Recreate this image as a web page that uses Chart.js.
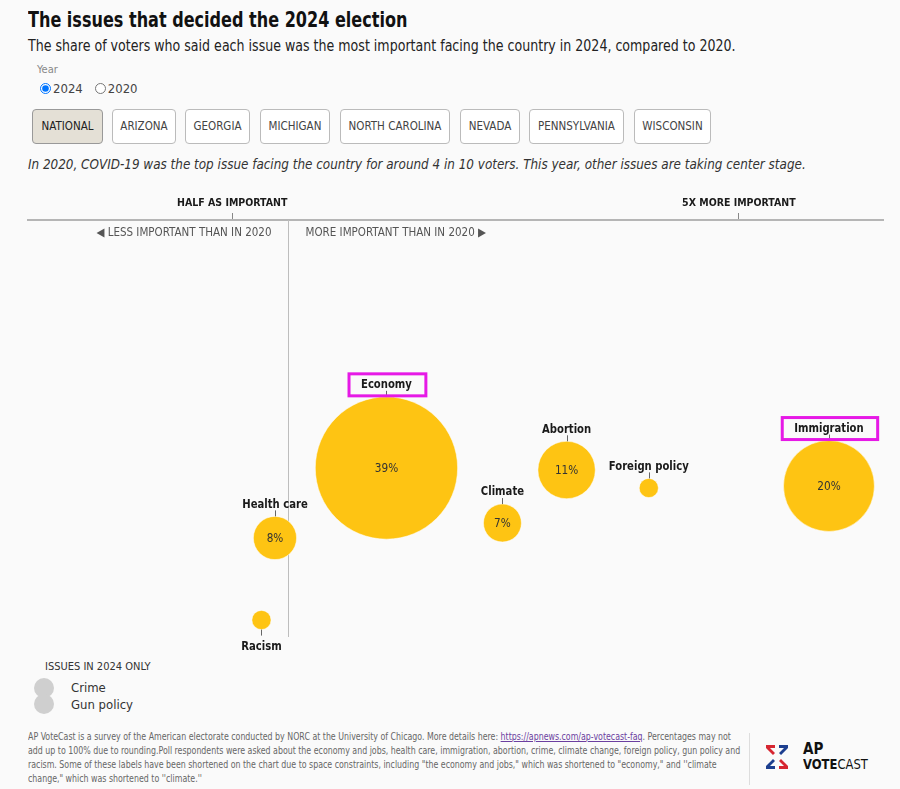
<!DOCTYPE html>
<html>
<head>
<meta charset="utf-8">
<script src="https://cdn.jsdelivr.net/npm/chart.js@4.4.1/dist/chart.umd.min.js"></script>
<style>
  html, body { margin: 0; padding: 0; background: #fafafa; }
  body { width: 900px; height: 789px; position: relative; overflow: hidden;
         font-family: 'Liberation Sans Narrow', 'DejaVu Sans Condensed', 'Roboto', sans-serif; font-stretch: condensed; color: #222; }
  .abs { position: absolute; white-space: nowrap; transform-origin: 0 0; }
  #title { left: 28px; top: 8px; font-size: 21px; font-weight: bold; color: #111; transform: scaleX(0.85); }
  #sub { left: 28px; top: 37px; font-size: 15px; color: #222; transform: scaleX(0.935); }
  #yearLbl { left: 37px; top: 63px; font-size: 11px; color: #888; }
  #radios { left: 38px; top: 81px; font-size: 13px; color: #444; display: flex; align-items: center; }
  #radios input { margin: 0 2px 0 2px; width: 11px; height: 11px; }
  #radios label { margin-right: 10px; display: flex; align-items: center; }
  #btns div { position: absolute; top: 109px; height: 33px; line-height: 33px; text-align: center; border: 1px solid #bbb; border-radius: 4px;
              background: #fff; font-size: 11.5px; color: #444; box-sizing: content-box; }
  #btns div.on { background: #e4e0d6; border-color: #999; color: #222; }
  #note { left: 28px; top: 156px; font-size: 14.5px; font-style: italic; color: #333; transform: scaleX(0.92); }
  #wrap { left: 0; top: 190px; width: 900px; height: 470px; }
  #legendTitle { left: 45px; top: 660px; font-size: 11px; color: #333; }
  .dot { position: absolute; width: 20px; height: 20px; border-radius: 50%; background: #cfcfcf; }
  .legTxt { left: 71px; font-size: 13px; color: #333; }
  #foot { left: 28px; top: 730px; font-size: 10px; line-height: 14px; color: #666; transform: scaleX(0.875); }
  #foot a { color: #6b3fa0; text-decoration: underline; }
  #sep { left: 749px; top: 733px; width: 1px; height: 52px; background: #ddd; }
  #logo { left: 764px; top: 742px; }
  #ap { left: 803px; top: 742px; font-size: 15px; font-weight: bold; color: #111; line-height: 15px; }
  #vc { left: 803px; top: 757px; font-size: 14px; color: #111; line-height: 15px; transform: scaleX(0.92); }
</style>
</head>
<body>
<div class="abs" id="title">The issues that decided the 2024 election</div>
<div class="abs" id="sub">The share of voters who said each issue was the most important facing the country in 2024, compared to 2020.</div>
<div class="abs" id="yearLbl">Year</div>
<div class="abs" id="radios">
  <label><input type="radio" name="y" checked>2024</label>
  <label><input type="radio" name="y">2020</label>
</div>
<div id="btns"></div>
<div class="abs" id="note">In 2020, COVID-19 was the top issue facing the country for around 4 in 10 voters. This year, other issues are taking center stage.</div>
<div class="abs" id="wrap"><canvas id="myChart" width="900" height="470"></canvas></div>
<div class="abs" id="legendTitle">ISSUES IN 2024 ONLY</div>
<div id="legendItems"></div>
<div class="abs" id="foot">AP VoteCast is a survey of the American electorate conducted by NORC at the University of Chicago. More details here: <a>https://apnews.com/ap-votecast-faq</a>. Percentages may not<br>add up to 100% due to rounding.Poll respondents were asked about the economy and jobs, health care, immigration, abortion, crime, climate change, foreign policy, gun policy and<br>racism. Some of these labels have been shortened on the chart due to space constraints, including "the economy and jobs," which was shortened to "economy," and ''climate<br>change," which was shortened to ''climate.''</div>
<div class="abs" id="sep"></div>
<svg class="abs" id="logo" width="26" height="30" viewBox="0 0 26 30">
  <polygon points="2,3 11,3 11,6 6,6 11,11 9,13 2,6" fill="#d62631"/>
  <polygon points="24,3 15,3 15,6 20,6 15,11 17,13 24,6" fill="#1d3f8f"/>
  <polygon points="2,27 11,27 11,24 6,24 11,19 9,17 2,24" fill="#1d3f8f"/>
  <polygon points="24,27 15,27 15,24 20,24 15,19 17,17 24,24" fill="#d62631"/>
</svg>
<div class="abs" id="ap">AP</div>
<div class="abs" id="vc"><b>VOTE</b>CAST</div>

<script>
// данные: доля избирателей 2024 и отношение к 2020
const issues = ['Racism', 'Health care', 'Economy', 'Climate', 'Abortion', 'Foreign policy', 'Immigration'];
const share2024 = [4, 8, 39, 7, 11, 4, 20];
const ratioVs2020 = [0.76, 0.88, 1.87, 2.9, 3.47, 4.2, 5.8];
const rowPos = [40, 31.8, 24.8, 30.3, 25, 26.8, 26.6];
const labelBelow = ['Racism'];
const highlighted = ['Economy', 'Immigration'];
const tickValues = [0.5, 5];
const tickLabels = ['HALF AS IMPORTANT', '5X MORE IMPORTANT'];
const onlyIn2024 = ['Crime', 'Gun policy'];
const states = ['NATIONAL', 'ARIZONA', 'GEORGIA', 'MICHIGAN', 'NORTH CAROLINA', 'NEVADA', 'PENNSYLVANIA', 'WISCONSIN'];
const stateBtnLeft = [32, 112, 185, 260, 340, 460, 529, 634];
const stateBtnWidth = [69, 62, 63, 68, 108, 58, 93, 75];

const FONT = "'Liberation Sans Narrow', 'DejaVu Sans Condensed', Roboto, sans-serif";

// кнопки штатов
const btns = document.getElementById('btns');
states.forEach((s, i) => {
    const d = document.createElement('div');
    d.textContent = s;
    d.style.left = stateBtnLeft[i] + 'px';
    d.style.width = stateBtnWidth[i] + 'px';
    if (i === 0) d.className = 'on';
    btns.appendChild(d);
});

// легенда
const leg = document.getElementById('legendItems');
onlyIn2024.forEach((name, i) => {
    const dot = document.createElement('div');
    dot.className = 'dot';
    dot.style.left = '34px';
    dot.style.top = (678 + i * 16) + 'px';
    leg.appendChild(dot);
    const t = document.createElement('div');
    t.className = 'abs legTxt';
    t.style.top = (680 + i * 17) + 'px';
    t.textContent = name;
    leg.appendChild(t);
});

const radiusFor = v => -19.4 + 14.5 * Math.sqrt(v);

// узкий текст на канве
function narrowText(ctx, text, x, y, sx) {
    ctx.save();
    ctx.translate(x, y);
    ctx.scale(sx, 1);
    ctx.fillText(text, 0, 0);
    ctx.restore();
}

const overlay = {
    id: 'overlay',
    beforeDatasetsDraw(chart) {
        const { ctx, chartArea, scales: { x } } = chart;
        const px = Math.round(x.getPixelForValue(1)) + 0.5;
        ctx.save();
        ctx.strokeStyle = '#bdbdbd';
        ctx.lineWidth = 1;
        ctx.beginPath();
        ctx.moveTo(px, chartArea.top);
        ctx.lineTo(px, chartArea.bottom);
        ctx.stroke();
        ctx.font = '11.5px ' + FONT;
        ctx.fillStyle = '#555';
        ctx.textBaseline = 'middle';
        ctx.textAlign = 'right';
        ctx.fillText('\u25C0 LESS IMPORTANT THAN IN 2020', px - 17, chartArea.top + 13);
        ctx.textAlign = 'left';
        ctx.fillText('MORE IMPORTANT THAN IN 2020 \u25B6', px + 17, chartArea.top + 13);
        ctx.restore();
    },
    afterDatasetsDraw(chart) {
        const { ctx } = chart;
        const meta = chart.getDatasetMeta(0);
        ctx.save();
        ctx.textAlign = 'center';
        ctx.textBaseline = 'middle';
        meta.data.forEach((el, i) => {
            const r = radiusFor(share2024[i]);
            const name = issues[i];
            const below = labelBelow.includes(name);
            const edge = below ? el.y + r : el.y - r;
            const dir = below ? 1 : -1;
            ctx.strokeStyle = '#666';
            ctx.lineWidth = 1;
            ctx.beginPath();
            ctx.moveTo(Math.round(el.x) + 0.5, edge);
            ctx.lineTo(Math.round(el.x) + 0.5, edge + dir * 6);
            ctx.stroke();
            ctx.font = 'bold 13px ' + FONT;
            ctx.fillStyle = '#1a1a1a';
            const ly = edge + dir * (below ? 17 : 12);
            narrowText(ctx, name, el.x, ly, 0.86);
            if (highlighted.includes(name)) {
                const w = ctx.measureText(name).width * 0.86 + 26;
                ctx.strokeStyle = '#e619e6';
                ctx.lineWidth = 3;
                ctx.strokeRect(el.x - w / 2 + 1, ly - 11, w, 22);
            }
            if (share2024[i] >= 7) {
                ctx.font = '13px ' + FONT;
                ctx.fillStyle = '#333';
                narrowText(ctx, share2024[i] + '%', el.x, el.y + 1, 0.9);
            }
        });
        ctx.restore();
    }
};

const ctx = document.getElementById('myChart').getContext('2d');
new Chart(ctx, {
    type: 'bubble',
    data: {
        datasets: [{
            data: issues.map((n, i) => ({ x: ratioVs2020[i], y: rowPos[i], r: radiusFor(share2024[i]) })),
            backgroundColor: '#fec413',
            borderColor: 'rgba(255,255,255,0.5)',
            borderWidth: 1,
            hoverRadius: 0
        }]
    },
    options: {
        responsive: false,
        animation: false,
        layout: { autoPadding: false, padding: { top: 0, left: 28, right: 17, bottom: 23 } },
        plugins: { legend: { display: false }, tooltip: { enabled: false } },
        scales: {
            x: {
                type: 'linear',
                position: 'top',
                min: -1.3135,
                max: 6.28,
                afterBuildTicks: scale => { scale.ticks = tickValues.map(v => ({ value: v })); },
                afterFit: scale => { scale.height = 30; },
                ticks: {
                    callback: v => tickLabels[tickValues.indexOf(v)],
                    font: { family: FONT, size: 10.5, weight: 'bold' },
                    color: '#1a1a1a',
                    padding: 3,
                    maxRotation: 0,
                    autoSkip: false
                },
                grid: { drawOnChartArea: false, drawTicks: true, tickLength: 7, color: '#888' },
                border: { color: '#b5b5b5', width: 2 }
            },
            y: {
                display: false,
                min: 0,
                max: 41.7,
                reverse: true
            }
        }
    },
    plugins: [overlay]
});
</script>
</body>
</html>
